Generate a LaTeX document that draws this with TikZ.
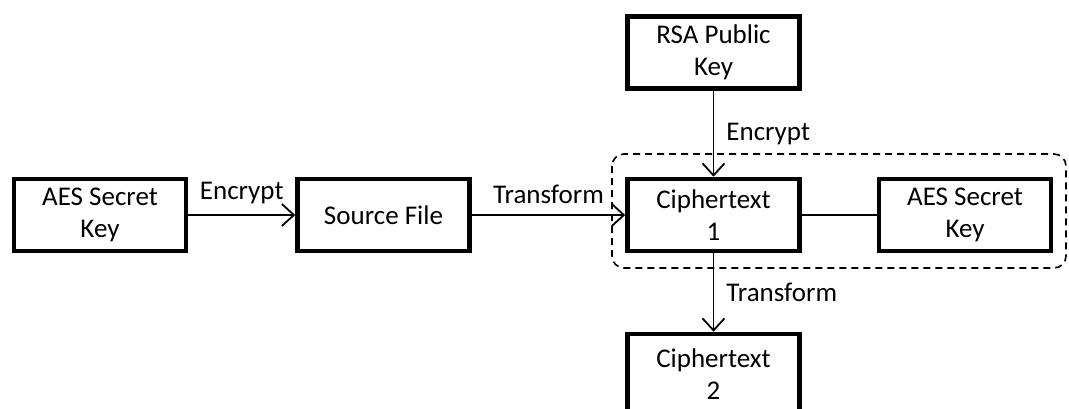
\documentclass[tikz,border=0pt]{standalone}
\usepackage{fontspec}
\setmainfont{Carlito}
\usetikzlibrary{arrows.meta}
\begin{document}
\begin{tikzpicture}[x=0.5pt,y=-0.5pt,
    keybox/.style={draw,line width=2.3pt,minimum width=86pt,minimum height=36pt,
      align=center,inner sep=2pt,font=\fontsize{13.5pt}{16pt}\selectfont},
    flow/.style={line width=0.9pt,-{Straight Barb[length=6pt,width=11pt,line width=0.9pt]}},
    lbl/.style={font=\fontsize{13.5pt}{16pt}\selectfont,inner sep=2pt}]
    \useasboundingbox (0,0) rectangle (1069,408);
    \clip (0,0) rectangle (1069,408);

    % Grouping ciphertext 1 with the AES secret key
    \draw [line width=0.8pt,dash pattern=on 3.5pt off 2.5pt,rounded corners=6pt] (612,154) rectangle (1066,268);

    % Boxes
    \node [keybox] (aesL) at (100,215) {AES Secret\\Key};
    \node [keybox] (src) at (383.5,215) {Source File};
    \node [keybox] (ct1) at (713.5,215) {Ciphertext\\1};
    \node [keybox] (aesR) at (965,215) {AES Secret\\Key};
    \node [keybox] (rsa) at (713.5,52.5) {RSA Public\\Key};
    \node [keybox,minimum height=40pt] (ct2) at (713.5,374) {Ciphertext\\2};

    % Connectors
    \draw [flow] (aesL) -- node [lbl,above=3pt] {Encrypt} (src);
    \draw [flow] (src) -- node [lbl,above=3pt] {Transform} (ct1);
    \draw [flow] (rsa) -- node [lbl,right=4pt] {Encrypt} (ct1);
    \draw [flow] (ct1) -- node [lbl,right=4pt] {Transform} (ct2);
    \draw [line width=0.9pt] (ct1) -- (aesR);
\end{tikzpicture}
\end{document}
